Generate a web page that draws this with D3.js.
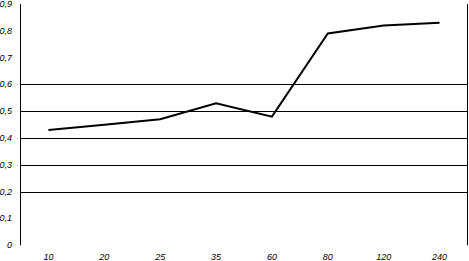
<!DOCTYPE html>
<html><head><meta charset="utf-8">
<script src="https://cdn.jsdelivr.net/npm/d3@7"></script>
<style>body{margin:0;background:#fff;}svg{display:block;}</style>
</head><body>
<svg id="c" width="469" height="261"></svg>
<script>
const categories = ["10","20","25","35","60","80","120","240"];
const values = [0.43, 0.45, 0.47, 0.53, 0.48, 0.79, 0.82, 0.83];
const yTicks = [0,0.1,0.2,0.3,0.4,0.5,0.6,0.7,0.8,0.9];
const yTickLabels = ["0","0,1","0,2","0,3","0,4","0,5","0,6","0,7","0,8","0,9"];
const gridValues = [0.2,0.3,0.4,0.5,0.6];

const svg = d3.select("#c");
const pLeft = 20.5, pRight = 467.5, pTop = 4, pBottom = 245.3;
const x = d3.scaleBand().domain(categories).range([pLeft, pRight]);
const y = d3.scaleLinear().domain([0, 0.9]).range([pBottom, pTop]);
const font = "'Liberation Sans', Arial, sans-serif";

svg.append("g").selectAll("line").data(gridValues).join("line")
  .attr("x1", pLeft).attr("x2", pRight)
  .attr("y1", d => Math.round(y(d)) + 0.5).attr("y2", d => Math.round(y(d)) + 0.5)
  .attr("stroke", "#000").attr("stroke-width", 1);

svg.append("line").attr("x1", pLeft).attr("x2", pLeft).attr("y1", pTop).attr("y2", pBottom)
  .attr("stroke", "#000").attr("stroke-width", 1);
svg.append("line").attr("x1", pRight).attr("x2", pRight).attr("y1", pTop).attr("y2", pBottom)
  .attr("stroke", "#000").attr("stroke-width", 1);

svg.append("g").selectAll("text").data(yTicks).join("text")
  .attr("x", 12).attr("y", d => y(d) + 3)
  .attr("text-anchor", "end")
  .attr("font-family", font).attr("font-size", 9).attr("font-style", "italic")
  .text((d, i) => yTickLabels[i]);

svg.append("g").selectAll("text").data(categories).join("text")
  .attr("x", d => x(d) + x.bandwidth() / 2).attr("y", 260)
  .attr("text-anchor", "middle")
  .attr("font-family", font).attr("font-size", 9).attr("font-style", "italic")
  .text(d => d);

const line = d3.line()
  .x((d, i) => x(categories[i]) + x.bandwidth() / 2)
  .y(d => y(d));
svg.append("path").datum(values).attr("d", line)
  .attr("fill", "none").attr("stroke", "#000").attr("stroke-width", 2)
  .attr("stroke-linejoin", "miter");
</script>
</body></html>
